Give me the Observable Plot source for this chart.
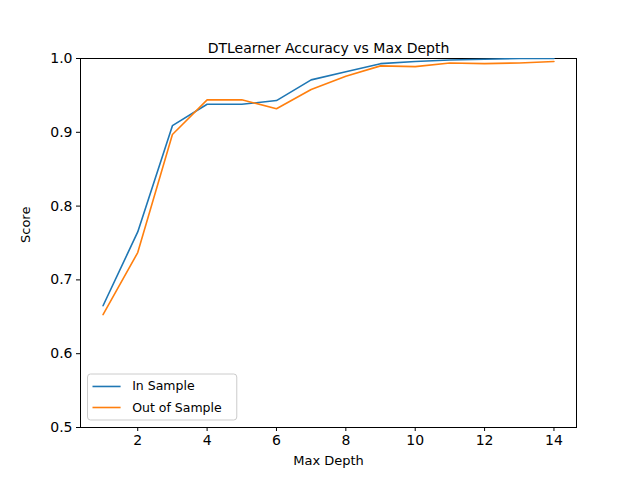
<!DOCTYPE html>
<html><head><meta charset="utf-8">
<script src="https://cdn.jsdelivr.net/npm/d3@7"></script>
<script src="https://cdn.jsdelivr.net/npm/@observablehq/plot@0.6"></script>
<style>body{margin:0;background:#fff;font-family:"DejaVu Sans",sans-serif}</style>
</head><body><div id="chart"></div>
<script>
const depths = [1,2,3,4,5,6,7,8,9,10,11,12,13,14]
const inSample = [0.665,0.765,0.909,0.938,0.938,0.943,0.971,0.982,0.993,0.996,0.998,0.999,1.0,1.0]
const outSample = [0.653,0.737,0.897,0.944,0.944,0.932,0.958,0.976,0.990,0.989,0.994,0.993,0.994,0.996]
const seriesNames = ['In Sample', 'Out of Sample']
const colors = ['#1f77b4', '#ff7f0e']

const rows = []
depths.forEach((d, i) => {
  rows.push({depth: d, score: inSample[i], s: seriesNames[0]})
  rows.push({depth: d, score: outSample[i], s: seriesNames[1]})
})
const legendRows = seriesNames.map((n, i) => ({n, y: 0.5556 - i*0.0285}))

let chart = Plot.plot({
  width: 640, height: 480,
  marginLeft: 80, marginRight: 64, marginTop: 58, marginBottom: 53,
  style: {fontFamily: '"DejaVu Sans", sans-serif', fontSize: '14px', color: '#000', background: '#fff'},
  x: {domain: [0.35, 14.65]},
  y: {domain: [0.5, 1.0]},
  color: {domain: seriesNames, range: colors},
  marks: [
    Plot.frame({stroke: '#000', strokeWidth: 1}),
    Plot.axisX({ticks: [2,4,6,8,10,12,14], tickSize: 4, tickPadding: 4, label: null, fontSize: 14}),
    Plot.axisY({ticks: [0.5,0.6,0.7,0.8,0.9,1.0], tickFormat: d3.format('.1f'), tickSize: 4, tickPadding: 4, label: null, fontSize: 14}),
    Plot.line(rows, {x: 'depth', y: 'score', stroke: 's', strokeWidth: 1.6, clip: true}),
    Plot.text(['DTLearner Accuracy vs Max Depth'], {frameAnchor: 'top', dy: -15, fontSize: 14}),
    Plot.text(['Max Depth'], {frameAnchor: 'bottom', dy: 37, fontSize: 13}),
    Plot.text(['Score'], {frameAnchor: 'left', dx: -55, rotate: -90, fontSize: 13}),
    // legend
    Plot.rect([0], {x1: 0.567, x2: 4.87, y1: 0.5095, y2: 0.5718, fill: '#fff', stroke: '#ccc', rx: 3}),
    Plot.ruleY(legendRows, {x1: 0.71, x2: 1.52, y: 'y', stroke: 'n', strokeWidth: 1.6}),
    Plot.text(legendRows, {x: 1.84, y: 'y', text: 'n', textAnchor: 'start', fontSize: 12.5})
  ]
})
document.getElementById('chart').append(chart)
</script>
</body></html>
